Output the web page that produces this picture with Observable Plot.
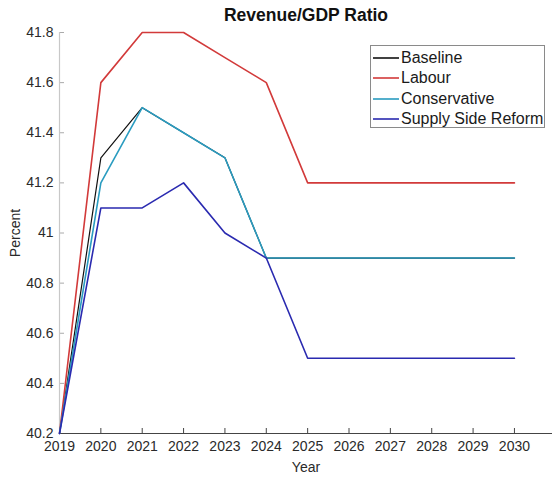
<!DOCTYPE html>
<html>
<head>
<meta charset="utf-8">
<script src="https://cdn.jsdelivr.net/npm/d3@7"></script>
<script src="https://cdn.jsdelivr.net/npm/@observablehq/plot@0.6"></script>
<style>
  html, body { margin: 0; padding: 0; background: #fff; }
  #wrap { position: relative; width: 552px; height: 477px; font-family: "Liberation Sans", Arial, sans-serif; }
  #legend { position: absolute; left: 370px; top: 45px; width: 175px; height: 83px; border: 1px solid #8a8a8a; background: #fff; box-sizing: border-box; padding-top: 2px; }
  .item { display: flex; align-items: center; height: 20.3px; font-size: 16px; color: #1a1a1a; }
  .item svg { display: block; margin-left: 2px; margin-right: 2px; }
</style>
</head>
<body>
<div id="wrap"></div>
<script>
const years = [2019, 2020, 2021, 2022, 2023, 2024, 2025, 2026, 2027, 2028, 2029, 2030];
const seriesNames = ["Baseline", "Labour", "Conservative", "Supply Side Reform"];
const baseline     = [40.2, 41.3, 41.5, 41.4, 41.3, 40.9, 40.9, 40.9, 40.9, 40.9, 40.9, 40.9];
const labour       = [40.2, 41.6, 41.8, 41.8, 41.7, 41.6, 41.2, 41.2, 41.2, 41.2, 41.2, 41.2];
const conservative = [40.2, 41.2, 41.5, 41.4, 41.3, 40.9, 40.9, 40.9, 40.9, 40.9, 40.9, 40.9];
const supplySide   = [40.2, 41.1, 41.1, 41.2, 41.0, 40.9, 40.5, 40.5, 40.5, 40.5, 40.5, 40.5];
const yTicks = [40.2, 40.4, 40.6, 40.8, 41, 41.2, 41.4, 41.6, 41.8];
const colors = ["#111111", "#d23a3a", "#2a9cc0", "#2a2ab0"];

const allSeries = [baseline, labour, conservative, supplySide];
const data = [];
allSeries.forEach((vals, si) => {
  vals.forEach((v, i) => data.push({series: seriesNames[si], year: years[i], value: v}));
});
const baseData = data.filter(d => d.series === "Baseline");
const otherData = data.filter(d => d.series !== "Baseline");

const chart = Plot.plot({
  width: 552,
  height: 477,
  marginLeft: 59,
  marginRight: 0,
  marginTop: 32,
  marginBottom: 44,
  style: {fontFamily: "\"Liberation Sans\", Arial, sans-serif", fontSize: "14px", color: "#333"},
  x: {domain: [2019, 2030.92], label: null},
  y: {domain: [40.2, 41.8], label: null},
  color: {domain: seriesNames, range: colors},
  marks: [
    Plot.axisX({ticks: years, tickSize: -5, tickFormat: () => "", stroke: "#444"}),
    Plot.axisX({ticks: years, tickSize: 0, tickPadding: 8, tickFormat: d => String(d), fontSize: 14, fill: "#2a2a2a",
      label: "Year", labelAnchor: "center", labelArrow: "none", labelOffset: 38}),
    Plot.axisY({ticks: yTicks, tickSize: -5, tickFormat: () => "", stroke: "#aaa"}),
    Plot.axisY({ticks: yTicks, tickSize: 0, tickPadding: 6, tickFormat: d => String(+d.toFixed(1)), fontSize: 14, fill: "#2a2a2a",
      label: "Percent", labelAnchor: "center", labelArrow: "none", labelOffset: 49}),
    Plot.ruleY([40.2], {stroke: "#444", strokeWidth: 1}),
    Plot.ruleX([2019], {stroke: "#c8c8c8", strokeWidth: 1.2}),
    Plot.line(baseData, {x: "year", y: "value", stroke: "series", strokeWidth: 1.2}),
    Plot.line(otherData, {x: "year", y: "value", z: "series", stroke: "series", strokeWidth: 1.6}),
    Plot.text(["Revenue/GDP Ratio"], {frameAnchor: "top", dy: -24, fontWeight: "bold", fontSize: 17.5, fill: "#111"})
  ]
});

const wrap = document.getElementById("wrap");
wrap.appendChild(chart);

const legend = document.createElement("div");
legend.id = "legend";
const ns = "http://www.w3.org/2000/svg";
seriesNames.forEach((name, i) => {
  const item = document.createElement("div");
  item.className = "item";
  const sw = document.createElementNS(ns, "svg");
  sw.setAttribute("width", "26");
  sw.setAttribute("height", "6");
  const ln = document.createElementNS(ns, "line");
  ln.setAttribute("x1", "0"); ln.setAttribute("x2", "26");
  ln.setAttribute("y1", "3"); ln.setAttribute("y2", "3");
  ln.setAttribute("stroke", colors[i]);
  ln.setAttribute("stroke-width", "1.6");
  sw.appendChild(ln);
  const tx = document.createElement("span");
  tx.textContent = name;
  item.appendChild(sw);
  item.appendChild(tx);
  legend.appendChild(item);
});
wrap.appendChild(legend);
</script>
</body>
</html>
